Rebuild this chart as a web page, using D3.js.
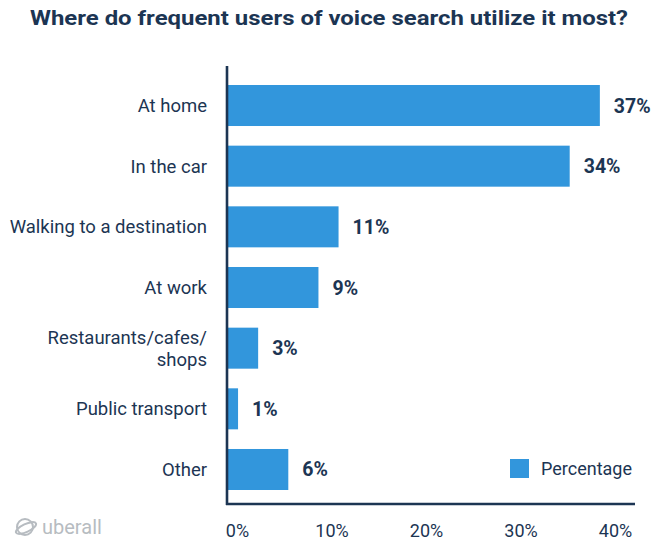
<!DOCTYPE html>
<html>
<head>
<meta charset="utf-8">
<script src="https://cdn.jsdelivr.net/npm/d3@7"></script>
<style>
  html, body { margin: 0; padding: 0; background: #fff; }
  svg { display: block; font-family: Roboto, "Open Sans", sans-serif; }
</style>
</head>
<body>
<svg id="chart" width="658" height="542"></svg>
<script>
// Where frequent voice-search users use it most (share of respondents, %)
const categories = [
  "At home",
  "In the car",
  "Walking to a destination",
  "At work",
  "Restaurants/cafes/ shops",
  "Public transport",
  "Other"
];
const percentages = [37, 34, 11, 9, 3, 1, 6];
const tickValues = [0, 10, 20, 30, 40];
const seriesName = "Percentage";
const title = "Where do frequent users of voice search utilize it most?";

const ink = "#1c3553";
const barColor = "#3296dc";

const svg = d3.select("#chart");

const rows = categories.map((c, i) => ({ category: c, value: percentages[i] }));

// Scales
const x = d3.scaleLinear().domain([0, 40]).range([228, 630]);
const xTicks = d3.scaleLinear().domain(x.domain()).range([237, 615]);
const y = d3.scaleBand()
  .domain(categories)
  .range([85, 490])
  .paddingInner(0.324)
  .paddingOuter(0);

// Title
svg.append("text")
  .attr("x", 30)
  .attr("y", 25)
  .attr("font-size", 20.5)
  .attr("font-weight", 700)
  .attr("fill", ink)
  .attr("textLength", 598)
  .attr("lengthAdjust", "spacingAndGlyphs")
  .text(title);

// Bars
svg.append("g")
  .selectAll("rect")
  .data(rows)
  .join("rect")
  .attr("x", x(0))
  .attr("y", d => y(d.category))
  .attr("width", d => x(d.value) - x(0))
  .attr("height", y.bandwidth())
  .attr("fill", barColor);

// Value labels
svg.append("g")
  .selectAll("text")
  .data(rows)
  .join("text")
  .attr("x", d => x(d.value) + 14)
  .attr("y", d => y(d.category) + y.bandwidth() / 2 + 7)
  .attr("font-size", 19.5)
  .attr("font-weight", 700)
  .attr("fill", ink)
  .text(d => d.value + "%");

// Category labels (wrapped on explicit spaces after slashes)
const catG = svg.append("g");
rows.forEach(d => {
  const lines = d.category.split("/ ");
  const t = catG.append("text")
    .attr("x", 207)
    .attr("text-anchor", "end")
    .attr("font-size", 18.5)
    .attr("fill", ink);
  const lh = 22;
  const cy = y(d.category) + y.bandwidth() / 2;
  lines.forEach((ln, i) => {
    t.append("tspan")
      .attr("x", 207)
      .attr("y", cy + 6.5 + (i - (lines.length - 1) / 2) * lh)
      .text(i < lines.length - 1 ? ln + "/" : ln);
  });
});

// Axis frame lines
svg.append("line")
  .attr("x1", 227).attr("x2", 227)
  .attr("y1", 66).attr("y2", 505)
  .attr("stroke", ink).attr("stroke-width", 2.6);
svg.append("line")
  .attr("x1", 226).attr("x2", 635)
  .attr("y1", 504).attr("y2", 504)
  .attr("stroke", ink).attr("stroke-width", 2.6);

// Bottom tick labels
const axis = d3.axisBottom(xTicks)
  .tickValues(tickValues)
  .tickFormat(d => d + "%")
  .tickSize(0)
  .tickPadding(0);
const axG = svg.append("g")
  .attr("transform", "translate(0,524)")
  .call(axis);
axG.select(".domain").remove();
axG.selectAll("text")
  .attr("font-family", "Roboto, sans-serif")
  .attr("font-size", 18)
  .attr("fill", ink);

// Legend
const lg = svg.append("g").attr("transform", "translate(510,459)");
lg.append("rect").attr("width", 19).attr("height", 19).attr("fill", barColor);
lg.append("text")
  .attr("x", 31).attr("y", 16)
  .attr("font-size", 18)
  .attr("fill", ink)
  .text(seriesName);

// Brand mark
const logo = svg.append("g").attr("transform", "translate(15,517)").attr("fill", "none").attr("stroke", "#b7bcc1");
logo.append("ellipse")
  .attr("cx", 10).attr("cy", 10).attr("rx", 8).attr("ry", 8)
  .attr("stroke-width", 2);
logo.append("ellipse")
  .attr("cx", 11).attr("cy", 11).attr("rx", 11).attr("ry", 4)
  .attr("transform", "rotate(-25 11 11)")
  .attr("stroke-width", 2);
svg.append("text")
  .attr("x", 42).attr("y", 534)
  .attr("font-size", 20)
  .attr("fill", "#b7bcc1")
  .text("uberall");
</script>
</body>
</html>
